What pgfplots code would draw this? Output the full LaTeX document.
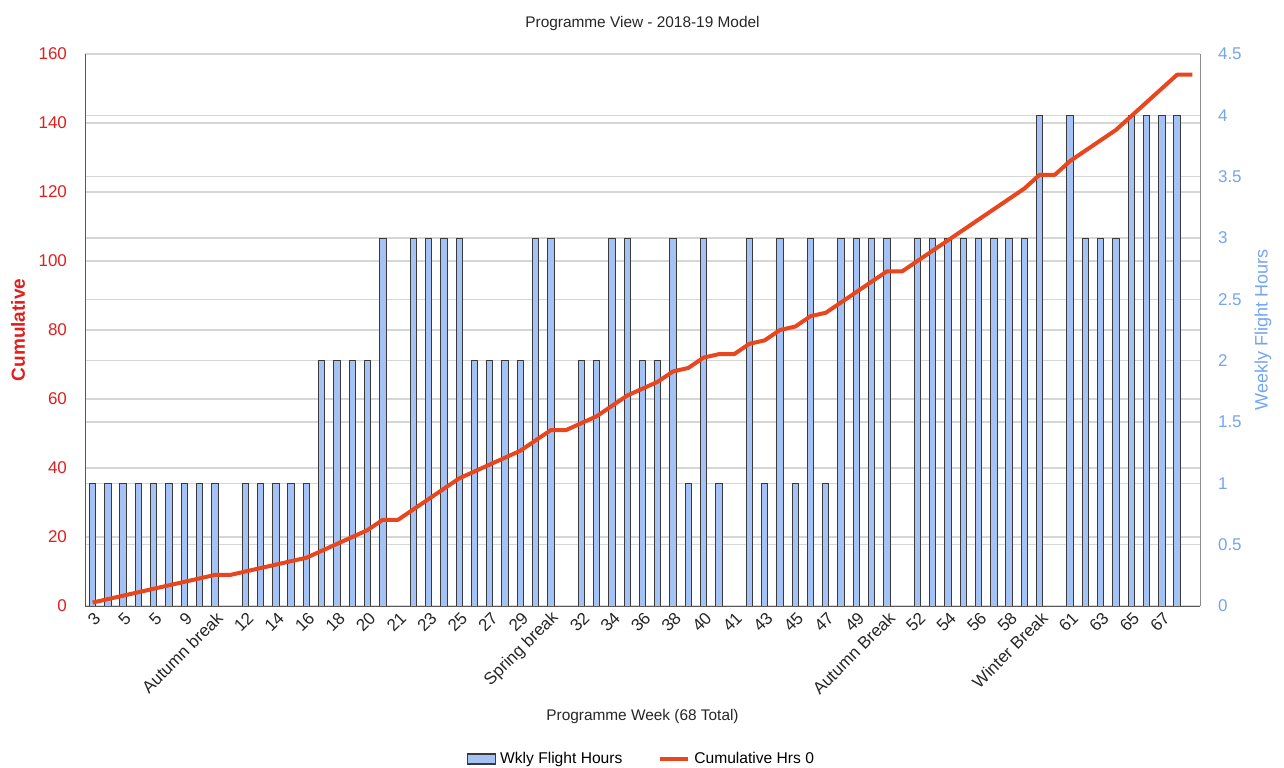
\documentclass[border=0pt]{standalone}
\usepackage{fontspec}
\setmainfont{Liberation Sans}
\usepackage{pgfplots}
\pgfplotsset{compat=1.18}

\definecolor{barfill}{HTML}{A4C2F4}
\definecolor{baredge}{HTML}{3A3A3A}
\definecolor{cumline}{HTML}{E8461E}
\definecolor{leftred}{HTML}{E01E1E}
\definecolor{rightblue}{HTML}{74A5F0}
\definecolor{gridgray}{HTML}{D6D6D6}

% weekly flight hours (right axis), zero weeks left out
\pgfplotstableread{
x y
0 1
1 1
2 1
3 1
4 1
5 1
6 1
7 1
8 1
10 1
11 1
12 1
13 1
14 1
15 2
16 2
17 2
18 2
19 3
21 3
22 3
23 3
24 3
25 2
26 2
27 2
28 2
29 3
30 3
32 2
33 2
34 3
35 3
36 2
37 2
38 3
39 1
40 3
41 1
43 3
44 1
45 3
46 1
47 3
48 1
49 3
50 3
51 3
52 3
54 3
55 3
56 3
57 3
58 3
59 3
60 3
61 3
62 4
64 4
65 3
66 3
67 3
68 4
69 4
70 4
71 4
}\weekly

% cumulative hours (left axis)
\pgfplotstableread{
x y
0 1
1 2
2 3
3 4
4 5
5 6
6 7
7 8
8 9
9 9
10 10
11 11
12 12
13 13
14 14
15 16
16 18
17 20
18 22
19 25
20 25
21 28
22 31
23 34
24 37
25 39
26 41
27 43
28 45
29 48
30 51
31 51
32 53
33 55
34 58
35 61
36 63
37 65
38 68
39 69
40 72
41 73
42 73
43 76
44 77
45 80
46 81
47 84
48 85
49 88
50 91
51 94
52 97
53 97
54 100
55 103
56 106
57 109
58 112
59 115
60 118
61 121
62 125
63 125
64 129
65 132
66 135
67 138
68 142
69 146
70 150
71 154
72 154
}\cumul

\pgfplotsset{
  common/.style={
    width=557.5pt, height=276pt, scale only axis,
    xmin=-0.5, xmax=72.5,
    major tick length=0pt,
    /pgf/number format/assume math mode=true,
    tick label style={font=\fontsize{8.5}{10}\selectfont},
    axis line style={-},
  }
}

\begin{document}
\begin{tikzpicture}
% weekly bars on the right axis
\begin{axis}[common,
  ymin=0, ymax=4.5,
  ytick={0,0.5,...,4.5},
  extra y ticks={0.5625,1.125,1.6875,2.25,2.8125,3.375,3.9375},
  extra y tick labels={,,,,,,},
  extra y tick style={grid=major},
  ymajorgrids, grid style={gridgray, line width=0.6pt},
  axis y line*=right, hide x axis,
  y axis line style={draw=black!45},
  yticklabel style={color=rightblue, xshift=5.5pt},
  ylabel={Weekly Flight Hours},
  ylabel style={color=rightblue, font=\fontsize{9}{11}\selectfont,
    at={(axis description cs:1.0565,0.5)}, anchor=center},
]
\addplot[ybar, bar width=3.2pt, fill=barfill, draw=baredge, line width=0.5pt]
  table[x=x, y=y] {\weekly};
\end{axis}

% cumulative line on the left axis
\begin{axis}[common,
  ymin=0, ymax=160,
  ytick={0,20,...,160},
  axis x line*=bottom, axis y line*=left,
  axis line style={draw=black!65},
  yticklabel style={color=leftred, xshift=-5.5pt},
  xtick={0,2,...,70},
  xticklabels={3,5,5,9,Autumn break,12,14,16,18,20,21,23,25,27,29,Spring break,32,34,36,38,40,41,43,45,47,49,Autumn Break,52,54,56,58,Winter Break,61,63,65,67},
  xticklabel style={rotate=45, anchor=east, xshift=2pt, yshift=-5pt,
    color=black!85, font=\fontsize{8.5}{10}\selectfont},
  ylabel={\textbf{Cumulative}},
  ylabel style={color=leftred, font=\fontsize{9.5}{11}\selectfont,
    at={(axis description cs:-0.060,0.5)}, anchor=center},
  xlabel={Programme Week (68 Total)},
  xlabel style={font=\fontsize{7.7}{9}\selectfont, color=black!85,
    at={(axis description cs:0.5,-0.201)}, anchor=center},
  title={Programme View - 2018-19 Model},
  title style={font=\fontsize{7.7}{9}\selectfont, color=black!85,
    at={(axis description cs:0.5,1.033)}, anchor=center, yshift=0pt},
  legend style={at={(axis description cs:0.5,-0.277)}, anchor=center,
    draw=none, fill=none, font=\fontsize{7.8}{9}\selectfont,
    /tikz/every even column/.append style={column sep=16pt}},
  legend columns=2,
]
\addlegendimage{legend image code/.code={
  \draw[fill=barfill, draw=baredge, line width=0.6pt] (0pt,-2.5pt) rectangle (14pt,2.5pt);}}
\addlegendentry{Wkly Flight Hours}
\addplot[cumline, line width=2pt, line join=round, no markers,
  legend image code/.code={\draw[cumline, line width=2pt] (0pt,0pt) -- (14pt,0pt);}]
  table[x=x, y=y] {\cumul};
\addlegendentry{Cumulative Hrs 0}
\end{axis}
\pgfresetboundingbox
\path[use as bounding box] (-42.5pt,-80.5pt) rectangle (599.5pt,303pt);
\end{tikzpicture}
\end{document}
